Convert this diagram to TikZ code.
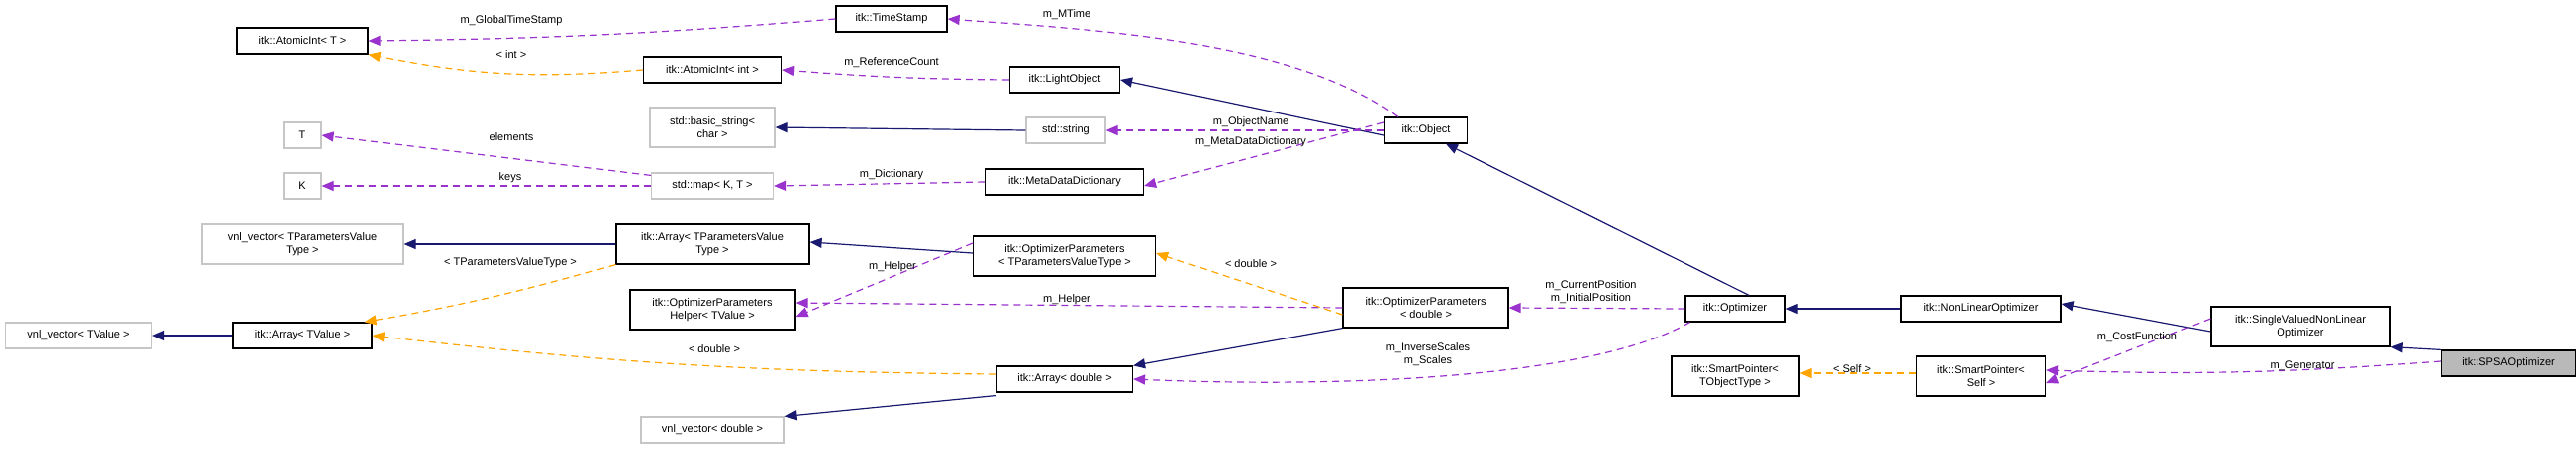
\documentclass[tikz,border=0pt]{standalone}
\usepackage{fontspec}
\setmainfont{Liberation Sans}
\usetikzlibrary{arrows.meta}
\definecolor{inh}{HTML}{191970}
\definecolor{use}{HTML}{9A32CD}
\definecolor{tpl}{HTML}{FFA500}
\begin{document}
\begin{tikzpicture}[x=1pt,y=-1pt,
  every node/.style={font=\fontsize{11}{13}\selectfont},
  cls/.style={draw=black,line width=1.2pt,inner sep=0pt,align=center,minimum height=26pt},
  ext/.style={draw=gray!45,line width=1.2pt,inner sep=0pt,align=center,minimum height=26pt},
  tall/.style={minimum height=40pt},
  inhe/.style={draw=inh,line width=1.2pt,-{Triangle[length=12pt,width=10pt]}},
  usee/.style={draw=use,line width=1.2pt,dash pattern=on 7pt off 5pt,-{Triangle[length=12pt,width=10pt]}},
  tple/.style={draw=tpl,line width=1.2pt,dash pattern=on 7pt off 5pt,-{Triangle[length=12pt,width=10pt]}},
  lbl/.style={fill=none,inner sep=1pt,align=center}]
\useasboundingbox (0,0) rectangle (2589,451);
% nodes
\node[cls,minimum width=132pt] (att) at (304,41) {itk::AtomicInt< T >};
\node[cls,minimum width=112pt] (ts) at (896,19) {itk::TimeStamp};
\node[cls,minimum width=139pt] (aii) at (716,70) {itk::AtomicInt< int >};
\node[cls,minimum width=111pt] (lo) at (1070,80) {itk::LightObject};
\node[ext,tall,minimum width=126pt] (bs) at (716,128) {std::basic\_string<\\char >};
\node[ext,minimum width=80pt] (str) at (1071,131) {std::string};
\node[cls,minimum width=83pt] (obj) at (1433,131) {itk::Object};
\node[ext,minimum width=38pt] (t) at (304,136) {T};
\node[ext,minimum width=38pt] (k) at (304,187) {K};
\node[ext,minimum width=123pt] (map) at (716,187) {std::map< K, T >};
\node[cls,minimum width=159pt] (mdd) at (1070,183) {itk::MetaDataDictionary};
\node[ext,tall,minimum width=202pt] (vtp) at (304,245) {vnl\_vector< TParametersValue\\Type >};
\node[cls,tall,minimum width=194pt] (atp) at (716,245) {itk::Array< TParametersValue\\Type >};
\node[cls,tall,minimum width=183pt] (optp) at (1070,257) {itk::OptimizerParameters\\< TParametersValueType >};
\node[cls,tall,minimum width=166pt] (oph) at (716,311) {itk::OptimizerParameters\\Helper< TValue >};
\node[ext,minimum width=147pt] (vtv) at (79,337) {vnl\_vector< TValue >};
\node[cls,minimum width=140pt] (atv) at (304,337) {itk::Array< TValue >};
\node[cls,tall,minimum width=166pt] (opd) at (1433,309) {itk::OptimizerParameters\\< double >};
\node[cls,minimum width=137pt] (ad) at (1070,381) {itk::Array< double >};
\node[ext,minimum width=144pt] (vd) at (716,432) {vnl\_vector< double >};
\node[cls,minimum width=100pt] (opt) at (1744,310) {itk::Optimizer};
\node[cls,minimum width=160pt] (nlo) at (1991,310) {itk::NonLinearOptimizer};
\node[cls,tall,minimum width=180pt] (sv) at (2312,328) {itk::SingleValuedNonLinear\\Optimizer};
\node[cls,fill=gray!55,minimum width=135pt] (spsa) at (2521,365) {itk::SPSAOptimizer};
\node[cls,tall,minimum width=128pt] (spt) at (1744,378) {itk::SmartPointer<\\TObjectType >};
\node[cls,tall,minimum width=129pt] (sps) at (1991,378) {itk::SmartPointer<\\Self >};
% edges
\draw[usee] (ts.west) to[bend left=2] (att.east);
\node[lbl] at (514,21) {m\_GlobalTimeStamp};
\draw[tple] (aii.west) to[bend left=8] (att.south east);
\node[lbl] at (514,55) {< int >};
\draw[usee] (lo.west) to[bend left=2] (aii.east);
\node[lbl] at (896,63) {m\_ReferenceCount};
\draw[usee] ([xshift=14pt]obj.north west) .. controls (1300,40) and (1100,30) .. (ts.east);
\node[lbl] at (1072,15) {m\_MTime};
\draw[inhe] ([yshift=-5pt]obj.west) -- (lo.east);
\draw[usee] (obj.west) -- (str.east);
\node[lbl] at (1257,123) {m\_ObjectName};
\draw[usee] ([yshift=8pt]obj.west) -- ([yshift=-4pt]mdd.east);
\node[lbl] at (1257,143) {m\_MetaDataDictionary};
\draw[inhe] (str.west) -- (bs.east);
\draw[usee] ([yshift=-3pt]map.north west) -- (t.east);
\node[lbl] at (514,138) {elements};
\draw[usee] (map.west) -- (k.east);
\node[lbl] at (513,179) {keys};
\draw[usee] (mdd.west) -- (map.east);
\node[lbl] at (896,176) {m\_Dictionary};
\draw[inhe] (atp.west) -- (vtp.east);
\draw[tple] (atp.south west) to[bend left=3] ([xshift=-8pt]atv.north east);
\node[lbl] at (513,264) {< TParametersValueType >};
\draw[inhe] (atv.west) -- (vtv.east);
\draw[inhe] ([yshift=3pt]optp.west) -- ([yshift=2pt]atp.east);
\draw[usee] ([yshift=13pt]optp.west) -- ([yshift=-7pt]oph.east);
\node[lbl] at (897,268) {m\_Helper};
\draw[usee] (opd.west) -- ([yshift=7pt]oph.east);
\node[lbl] at (1072,301) {m\_Helper};
\draw[tple] ([yshift=-7pt]opd.west) -- ([yshift=3pt]optp.east);
\node[lbl] at (1257,265) {< double >};
\draw[tple] ([yshift=5pt]ad.west) to[bend left=3] (atv.east);
\node[lbl] at (718,351) {< double >};
\draw[inhe] (opd.south west) -- (ad.north east);
\draw[inhe] ([yshift=-3pt]ad.south west) -- (vd.north east);
\draw[usee] (opt.west) -- (opd.east);
\node[lbl] at (1599,293) {m\_CurrentPosition\\m\_InitialPosition};
\draw[usee] ([xshift=5pt]opt.south west) .. controls (1600,380) and (1350,390) .. (ad.east);
\node[lbl] at (1435,356) {m\_InverseScales\\m\_Scales};
\draw[inhe] ([xshift=14pt]opt.north) -- ([xshift=20pt]obj.south);
\draw[inhe] (nlo.west) -- (opt.east);
\draw[inhe] ([yshift=-5pt]sv.west) -- ([yshift=5pt]nlo.east);
\draw[usee] ([yshift=8pt]sv.west) -- ([yshift=-7pt]sps.east);
\node[lbl] at (2148,339) {m\_CostFunction};
\draw[inhe] (spsa.north west) -- (sv.south east);
\draw[usee] ([yshift=2pt]spsa.west) to[bend left=3] ([yshift=6pt]sps.east);
\node[lbl] at (2314,368) {m\_Generator};
\draw[tple] ([yshift=3pt]sps.west) -- ([yshift=3pt]spt.east);
\node[lbl] at (1861,371) {< Self >};
\end{tikzpicture}
\end{document}
